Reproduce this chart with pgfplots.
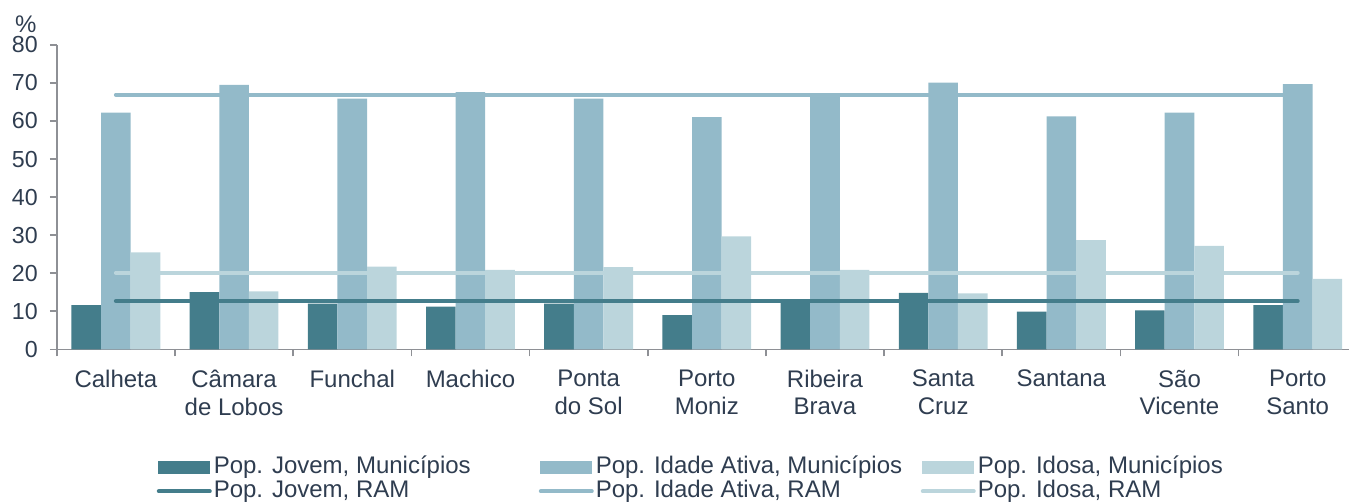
\documentclass[border=0pt]{standalone}
\usepackage{pgfplots}
\pgfplotsset{compat=1.18}
\usepackage{fontspec}
\setmainfont{Liberation Sans}
\definecolor{cdark}{HTML}{447D8B}
\definecolor{cmid}{HTML}{93BAC9}
\definecolor{clight}{HTML}{BBD5DC}
\definecolor{ctext}{HTML}{2F3D50}
\definecolor{caxis}{HTML}{8E9095}
\begin{document}
\begin{tikzpicture}
\begin{axis}[
  at={(0,0)}, anchor=south west,
  width=650pt, height=152.2pt, scale only axis,
  xmin=-0.5, xmax=10.5, ymin=0, ymax=80,
  ybar=0pt, bar width=14.8pt,
  axis x line*=bottom, axis y line*=left,
  axis line style={caxis, line width=0.8pt},
  xtick={0,...,10},
  xticklabels={Calheta,{Câmara\\de Lobos},Funchal,Machico,{Ponta\\do Sol},{Porto\\Moniz},{Ribeira\\Brava},{Santa\\Cruz},Santana,{São\\Vicente},{Porto\\Santo}},
  x tick label style={align=center, font=\fontsize{12}{13.8}\selectfont, text=ctext, yshift=-3.3pt},
  minor xtick={-0.5,0.5,...,10.5},
  major x tick style={draw=none},
  minor x tick style={caxis, line width=0.8pt},
  ytick={0,10,...,80},
  y tick style={caxis, line width=0.8pt},
  y tick label style={font=\fontsize{11.6}{13}\selectfont, text=ctext, xshift=-2.5pt},
  /pgf/number format/assume math mode=true,
  tick align=outside, major tick length=3.5pt, minor tick length=3.5pt,
  clip=false,
  legend columns=3,
  legend style={draw=none, fill=none, at={(axis description cs:0.0769,-0.341)}, anchor=north west,
    inner sep=0pt, outer sep=0pt, row sep=-1.9pt,
    nodes={inner sep=1pt, font=\fontsize{12}{13.8}\selectfont, text=ctext, text height=9pt, text depth=3pt},
    /tikz/every even column/.append style={column sep=0pt}},
  legend cell align=left,
]
\addplot[fill=cdark, draw=none, area legend,
  legend image code/.code={\fill[cdark] (0pt,-3.25pt) rectangle (26pt,3.25pt);}]
  coordinates {(0,11.6) (1,15.0) (2,12.0) (3,11.2) (4,12.0) (5,9.0) (6,13.2) (7,14.8) (8,9.9) (9,10.2) (10,11.6)};
\addlegendentry{\makebox[161.5pt][l]{Pop. Jovem, Municípios}}
\addplot[fill=cmid, draw=none, area legend,
  legend image code/.code={\fill[cmid] (0pt,-3.25pt) rectangle (26pt,3.25pt);}]
  coordinates {(0,62.2) (1,69.5) (2,65.9) (3,67.6) (4,65.9) (5,61.0) (6,67.2) (7,70.1) (8,61.2) (9,62.2) (10,69.7)};
\addlegendentry{\makebox[161.5pt][l]{Pop. Idade Ativa, Municípios}}
\addplot[fill=clight, draw=none, area legend,
  legend image code/.code={\fill[clight] (0pt,-3.25pt) rectangle (26pt,3.25pt);}]
  coordinates {(0,25.5) (1,15.2) (2,21.7) (3,20.9) (4,21.6) (5,29.7) (6,20.9) (7,14.7) (8,28.7) (9,27.2) (10,18.5)};
\addlegendentry{Pop. Idosa, Municípios}
\addplot[sharp plot, cdark, line width=2pt, line cap=round, mark=none, bar shift=0pt,
  legend image code/.code={\draw[cdark, line width=2pt, line cap=round] (0.5pt,0) -- (26pt,0);}]
  coordinates {(0,12.7) (10,12.7)};
\addlegendentry{\makebox[161.5pt][l]{Pop. Jovem, RAM}}
\addplot[sharp plot, cmid, line width=2pt, line cap=round, mark=none, bar shift=0pt,
  legend image code/.code={\draw[cmid, line width=2pt, line cap=round] (0.5pt,0) -- (26pt,0);}]
  coordinates {(0,66.9) (10,66.9)};
\addlegendentry{\makebox[161.5pt][l]{Pop. Idade Ativa, RAM}}
\addplot[sharp plot, clight, line width=2pt, line cap=round, mark=none, bar shift=0pt,
  legend image code/.code={\draw[clight, line width=2pt, line cap=round] (0.5pt,0) -- (26pt,0);}]
  coordinates {(0,20.1) (10,20.1)};
\addlegendentry{Pop. Idosa, RAM}
\node[text=ctext, font=\fontsize{12}{13.8}\selectfont] at (axis description cs:0,1) [xshift=-15.5pt, yshift=10.5pt] {\%};
\end{axis}
\pgfresetboundingbox
\useasboundingbox (-28.4pt,-76.85pt) rectangle (646.1pt,174.65pt);
\end{tikzpicture}
\end{document}
